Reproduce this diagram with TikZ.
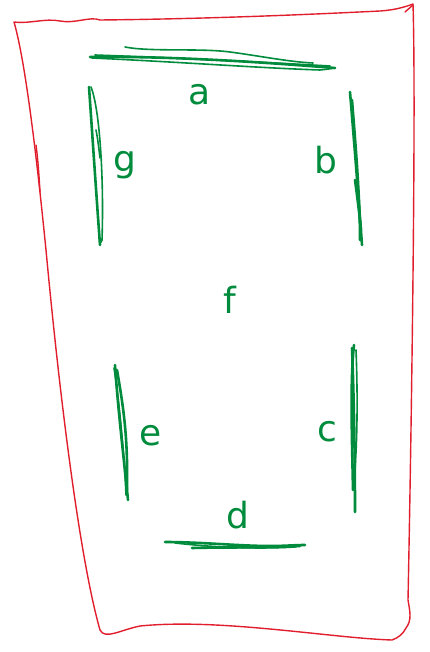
\documentclass[tikz,border=0pt]{standalone}
\usepackage{fontspec}
\setmainfont{DejaVu Sans}
\definecolor{pen}{RGB}{0,140,60}
\definecolor{frame}{RGB}{225,30,45}
\tikzset{
  seg/.style={draw=pen, line width=2.6pt, line cap=round, line join=round},
  segthin/.style={draw=pen, line width=1.6pt, line cap=round},
  border/.style={draw=frame, line width=1.4pt, line cap=round, line join=round},
  lbl/.style={text=pen, font=\fontsize{36}{36}\selectfont, inner sep=0pt}
}
\begin{document}
\begin{tikzpicture}[x=1pt,y=-1pt]
\useasboundingbox (0,0) rectangle (429,652);
% red hand-drawn frame
\draw[border] (14,22) .. controls (30,24) and (45,18) .. (60,21)
  .. controls (75,24) and (90,16) .. (100,20)
  .. controls (200,19) and (300,15) .. (380,11)
  .. controls (395,10) and (405,7) .. (413,4)
  .. controls (416,100) and (412,400) .. (408,600)
  .. controls (410,612) and (412,620) .. (406,628)
  .. controls (403,634) and (398,638) .. (392,640)
  .. controls (330,638) and (220,618) .. (140,626)
  .. controls (120,630) and (105,640) .. (100,630)
  .. controls (80,560) and (60,400) .. (46,250)
  .. controls (36,150) and (25,60) .. (14,22);
\draw[border] (405,12) -- (413,5);
\draw[border] (36,145) .. controls (38,160) and (39,175) .. (40,192);
% segment a
\draw[seg] (90,57) .. controls (170,56) and (260,62) .. (335,68);
\draw[segthin] (92,58) .. controls (180,62) and (260,68) .. (320,70) .. controls (330,69) and (334,68) .. (335,68);
\draw[segthin] (125,47) .. controls (150,52) and (200,48) .. (230,52) .. controls (260,56) and (290,62) .. (313,63);
\draw[segthin] (95,55) .. controls (180,58) and (260,62) .. (330,66);
% segment g
\draw[seg] (89,87) .. controls (92,130) and (96,190) .. (100,245);
\draw[segthin] (91,87) .. controls (100,110) and (104,180) .. (102,240) .. controls (100,246) and (99,240) .. (99,230);
\draw[segthin] (96,130) .. controls (98,140) and (99,150) .. (100,158);
% segment b
\draw[seg] (350,92) .. controls (354,140) and (358,190) .. (362,245);
\draw[seg] (352,100) .. controls (356,150) and (360,200) .. (360,240);
\draw[seg] (355,180) .. controls (357,195) and (359,210) .. (361,230);
% segment e
\draw[seg] (115,365) .. controls (118,410) and (124,460) .. (128,500);
\draw[seg] (117,370) .. controls (124,410) and (128,440) .. (127,490);
\draw[segthin] (114,368) .. controls (119,400) and (124,450) .. (126,495);
% segment c
\draw[seg] (352,348) .. controls (354,400) and (355,460) .. (355,512);
\draw[seg] (354,345) .. controls (350,380) and (352,440) .. (353,490);
\draw[segthin] (356,350) .. controls (358,400) and (357,440) .. (355,470);
% segment d
\draw[seg] (165,542) .. controls (200,542) and (240,546) .. (270,546) .. controls (285,546) and (295,545) .. (305,545);
\draw[seg] (192,548) .. controls (230,547) and (270,548) .. (300,546);
\draw[segthin] (175,543) .. controls (220,548) and (260,549) .. (295,547);
% labels
\node[lbl] (la) at (200,95) {a};
\node[lbl] (lg) at (125,165) {g};
\node[lbl] (lb) at (326,160) {b};
\node[lbl] (lf) at (230,300) {f};
\node[lbl] (le) at (151,436) {e};
\node[lbl] (lc) at (327,432) {c};
\node[lbl] (ld) at (238,515) {d};
\end{tikzpicture}
\end{document}
